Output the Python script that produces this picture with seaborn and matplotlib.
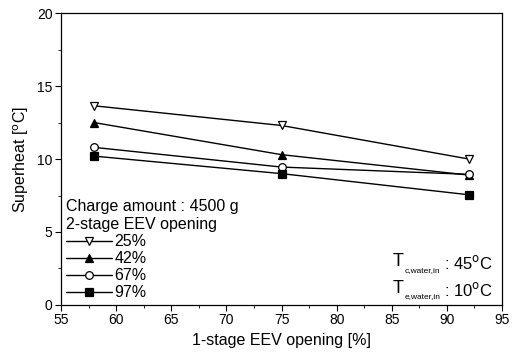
import matplotlib
matplotlib.use("Agg")
import matplotlib.pyplot as plt
import seaborn as sns
import pandas as pd
from matplotlib.ticker import MultipleLocator
from matplotlib.transforms import offset_copy

sns.set_theme(style="ticks")
plt.rcParams['font.family'] = ['Liberation Sans', 'DejaVu Sans']
plt.rcParams['text.color'] = 'black'
plt.rcParams['axes.labelcolor'] = 'black'
plt.rcParams['xtick.color'] = 'black'
plt.rcParams['ytick.color'] = 'black'

opening_1st = [58, 75, 92]
labels = ["25%", "42%", "67%", "97%"]
sh_25 = [13.65, 12.3, 10.0]
sh_42 = [12.5, 10.3, 8.9]
sh_67 = [10.8, 9.45, 8.95]
sh_97 = [10.2, 9.0, 7.55]

series = [sh_25, sh_42, sh_67, sh_97]
markers = ['v', '^', 'o', 's']
fills = ['white', 'black', 'white', 'black']

fig = plt.figure(figsize=(5.17, 3.55), dpi=100)
ax = fig.add_axes([0.118, 0.141, 0.853, 0.822])

for lab, vals, mk, fc in zip(labels, series, markers, fills):
    df = pd.DataFrame({"x": opening_1st, "y": vals})
    sns.lineplot(data=df, x="x", y="y", ax=ax, color='black', lw=1.0,
                 marker=mk, markersize=5.5, markerfacecolor=fc,
                 markeredgecolor='black', markeredgewidth=0.9, label=lab)

ax.set_xlim(55, 95)
ax.set_ylim(0, 20)
ax.xaxis.set_major_locator(MultipleLocator(5))
ax.xaxis.set_minor_locator(MultipleLocator(2.5))
ax.yaxis.set_major_locator(MultipleLocator(5))
ax.yaxis.set_minor_locator(MultipleLocator(2.5))
ax.tick_params(which='major', direction='out', length=4, width=0.8, labelsize=10, pad=2)
ax.tick_params(which='minor', direction='out', length=2, width=0.6)
for s in ax.spines.values():
    s.set_linewidth(0.9)
    s.set_color('black')

ax.set_xlabel("1-stage EEV opening [%]", fontsize=11.5, labelpad=4)
ax.set_ylabel("Superheat [$^{\\mathrm{o}}$C]", fontsize=11.5, labelpad=4)

leg = ax.legend(loc='lower left', frameon=False, fontsize=11.5,
                title="Charge amount : 4500 g\n2-stage EEV opening",
                title_fontsize=11.5, handlelength=2.9, handletextpad=0.15,
                labelspacing=0.12, borderaxespad=0.0, borderpad=0.3)
leg._legend_box.align = "left"
leg._legend_box.sep = 2

# Condition annotation (right-aligned, built from pieces)
fig.canvas.draw()
rend = fig.canvas.get_renderer()
rows = [("c,water,in", "45", 0.143), ("e,water,in", "10", 0.052)]
for sub, val, yf in rows:
    t1 = ax.text(0.98, yf, ": " + val + "$^{\\mathrm{o}}$C", transform=ax.transAxes,
                 ha='right', va='center', fontsize=12)
    w1 = t1.get_window_extent(rend).width * 72 / fig.dpi
    tr2 = offset_copy(ax.transAxes, fig=fig, x=-w1 - 3, y=-5, units='points')
    t2 = ax.text(0.98, yf, sub, transform=tr2, ha='right', va='center', fontsize=6)
    w2 = t2.get_window_extent(rend).width * 72 / fig.dpi
    tr3 = offset_copy(ax.transAxes, fig=fig, x=-w1 - w2 - 3.5, y=1, units='points')
    ax.text(0.98, yf, "T", transform=tr3, ha='right', va='center', fontsize=13)

fig.savefig("out.png", dpi=100)
